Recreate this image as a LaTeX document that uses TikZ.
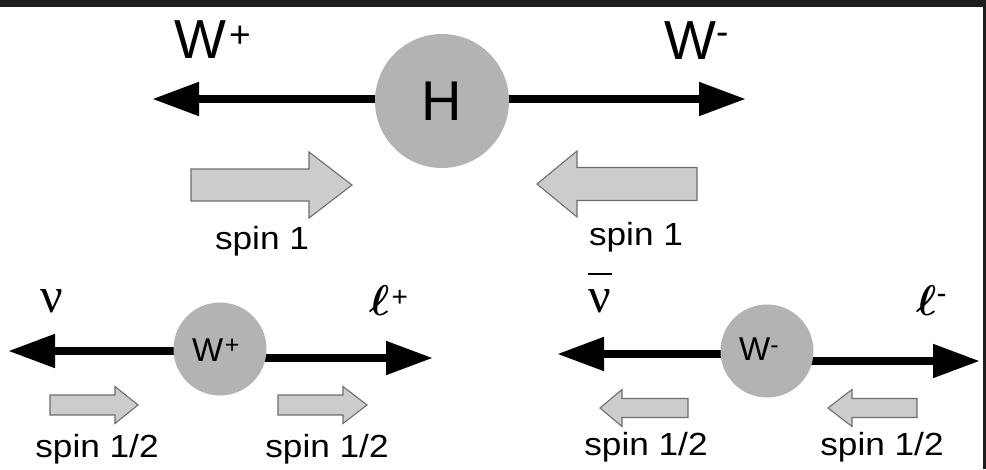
\RequirePackage{fix-cm}
\documentclass[tikz,border=0pt]{standalone}
\usepackage{bm}
\usepackage{fontspec}
\setmainfont{Liberation Sans}
\newfontfamily\grk{Liberation Serif}
\usetikzlibrary{arrows.meta,backgrounds}
\definecolor{ballgray}{HTML}{B3B3B3}
\definecolor{spinfill}{HTML}{CCCCCC}
\definecolor{spinedge}{HTML}{6E6E6E}
\definecolor{framecol}{HTML}{1E1E1E}
\newcommand\Fs[1]{\fontsize{#1}{#1}\selectfont}
\newcommand\Sp[3]{\raisebox{#2pt}{\Fs{#1}#3}}
\newcommand\SpinArr[6]{\draw[spinbox] ({#1},{#4-#5}) -- ({#2},{#4-#5}) -- ({#2},{#4-#6}) -- ({#3},{#4}) -- ({#2},{#4+#6}) -- ({#2},{#4+#5}) -- ({#1},{#4+#5}) -- cycle;}
\begin{document}
\begin{tikzpicture}[x=1pt,y=-1pt,
  ball/.style={circle,fill=ballgray,inner sep=0pt},
  wline/.style={line width=8pt,-{Triangle[length=47pt,width=32pt]}},
  spinbox/.style={fill=spinfill,draw=spinedge,line width=1.1pt,line join=miter},
  lbl/.style={inner sep=0pt},
  spinlbl/.style={inner sep=0pt,anchor=base,font=\Fs{32}},
]
\useasboundingbox (0,0) rectangle (986,469);

% ---- top: H -> W+ W-
\node[ball,minimum size=134pt,font=\Fs{56}] (H) at (442,101) {H};
\coordinate (WpTip) at (152,99);
\coordinate (WmTip) at (746,99);
\node[lbl,anchor=base west,font=\Fs{55}] (WpTop) at (174,58) {W\kern3pt\Sp{37}{11}{+}};
\node[lbl,anchor=base west,font=\Fs{55}] (WmTop) at (664,59) {W\Sp{37}{15}{-}};

\SpinArr{191}{309}{352}{185}{16}{33}
\SpinArr{697}{577}{537}{184}{16.5}{33}
\node[spinlbl] (s1L) at (262,249) {\scalebox{1.1}[1]{spin 1}};
\node[spinlbl] (s1R) at (636,245) {\scalebox{1.1}[1]{spin 1}};

% ---- bottom left: W+ -> nu l+
\node[ball,minimum size=93pt] (Wp) at (220,349) {};
\node[lbl,anchor=base west,font=\Fs{33}] (WpLab) at (192,361) {W\kern1.5pt\Sp{25}{8}{+}};
\coordinate (nuTip) at (8,351);
\coordinate (lpTip) at (433,358);
\node[lbl,font=\grk\Fs{50}] (nu) at (52,301) {ν};
\node[lbl,anchor=base west,font=\Fs{43}] (lp) at (369,315) {$\bm{\ell}$\kern2pt\Sp{28}{9}{+}};
\SpinArr{50}{115}{138}{405}{10}{18.5}
\SpinArr{278}{343}{367}{405}{10}{18.5}
\node[spinlbl] (shL1) at (97,457) {\scalebox{1.1}[1]{spin 1/2}};
\node[spinlbl] (shL2) at (327,457) {\scalebox{1.1}[1]{spin 1/2}};

% ---- bottom right: W- -> nubar l-
\node[ball,minimum size=93pt] (Wm) at (767,351) {};
\node[lbl,anchor=base west,font=\Fs{33}] (WmLab) at (739,360) {W\Sp{25}{7}{-}};
\coordinate (nubTip) at (557,354);
\coordinate (lmTip) at (980,361);
\node[lbl,font=\grk\Fs{50}] (nub) at (600,301) {ν};
\draw[line width=1.7pt] ([yshift=15pt,xshift=-1pt]nub.north west) -- ([yshift=15pt]nub.north east);
\node[lbl,anchor=base west,font=\Fs{43}] (lm) at (916,315) {$\bm{\ell}$\Sp{30}{12}{-}};
\SpinArr{688}{622}{600}{408}{9.5}{18.5}
\SpinArr{917}{852}{828}{408}{9.5}{18.5}
\node[spinlbl] (shR1) at (646,455) {\scalebox{1.1}[1]{spin 1/2}};
\node[spinlbl] (shR2) at (882,455) {\scalebox{1.1}[1]{spin 1/2}};

\begin{scope}[on background layer]
  \fill[white] (0,0) rectangle (986,469);
  \fill[framecol] (0,0) rectangle (986,6.5);
  \fill[framecol] (982.5,0) rectangle (986,469);
  \draw[wline] (H.center |- WpTip) -- (WpTip);
  \draw[wline] (H.center |- WmTip) -- (WmTip);
  \draw[wline] (Wp.center |- nuTip) -- (nuTip);
  \draw[wline] (Wp.center |- lpTip) -- (lpTip);
  \draw[wline] (Wm.center |- nubTip) -- (nubTip);
  \draw[wline] (Wm.center |- lmTip) -- (lmTip);
\end{scope}
\end{tikzpicture}
\end{document}
